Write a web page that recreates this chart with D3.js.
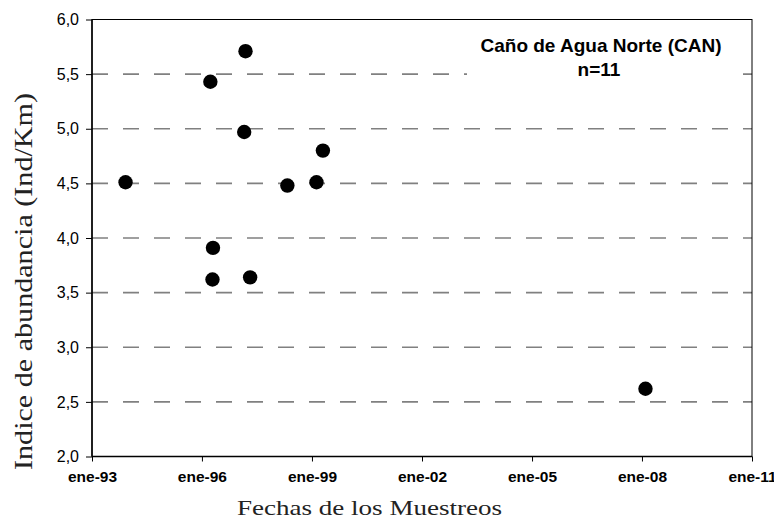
<!DOCTYPE html>
<html><head><meta charset="utf-8">
<script src="https://cdn.jsdelivr.net/npm/d3@7"></script>
<style>body{margin:0;background:#fff}</style>
</head><body>
<svg id="c" width="774" height="523"></svg>
<script>
const sampleDates = ["1993-12-01","1996-03-25","1997-03-10","1997-02-25","1998-05-01","1999-02-15","1999-04-20","1996-04-20","1996-04-15","1997-04-25","2008-02-05"];
const abundance = [4.51,5.43,5.71,4.97,4.48,4.51,4.80,3.91,3.62,3.64,2.62];
const xTickYears = [1993,1996,1999,2002,2005,2008,2011];
const xTickLabels = ["ene-93","ene-96","ene-99","ene-02","ene-05","ene-08","ene-11"];
const yTicks = [2.0,2.5,3.0,3.5,4.0,4.5,5.0,5.5,6.0];
const titleLines = ["Caño de Agua Norte (CAN)","n=11"];

const svg = d3.select("#c");
const L=92,R=752,T=19.5,B=456.5;
const x = d3.scaleTime().domain([new Date(1993,0,1), new Date(2011,0,1)]).range([L,R]);
const y = d3.scaleLinear().domain([2,6]).range([B,T]);
const parse = d3.timeParse("%Y-%m-%d");
const data = sampleDates.map((d,i)=>({date:parse(d), v:abundance[i]}));

// gridlines
svg.append("g").selectAll("line").data(yTicks.filter(t=>t>2&&t<6)).join("line")
  .attr("x1",L).attr("x2",R).attr("y1",d=>y(d)).attr("y2",d=>y(d))
  .attr("stroke","#808080").attr("stroke-width",1.6).attr("stroke-dasharray","16,15");

// title box (white)
svg.append("rect").attr("x",467).attr("y",T+3).attr("width",271).attr("height",70).attr("fill","#fff");

// frame
svg.append("rect").attr("x",L).attr("y",T).attr("width",R-L).attr("height",B-T)
  .attr("fill","none").attr("stroke","#000").attr("stroke-width",1);
svg.append("line").attr("x1",L).attr("x2",L).attr("y1",T).attr("y2",B).attr("stroke","#000").attr("stroke-width",1.5);
svg.append("line").attr("x1",L).attr("x2",R).attr("y1",B).attr("y2",B).attr("stroke","#000").attr("stroke-width",1.5);

// y axis
const yAxis = d3.axisLeft(y).tickValues(yTicks).tickSize(6).tickPadding(7)
  .tickFormat(d=>d3.format(".1f")(d).replace(".",","));
const gy = svg.append("g").attr("transform",`translate(${L},0)`).call(yAxis);
gy.select(".domain").remove();
gy.selectAll("text").attr("font-family","'Liberation Sans',Arial,sans-serif").attr("font-size",16).attr("fill","#000");
gy.selectAll("line").attr("stroke","#000");

// x axis
const xAxis = d3.axisBottom(x).tickValues(xTickYears.map(yv=>new Date(yv,0,1))).tickSize(5).tickPadding(9)
  .tickFormat((d,i)=>xTickLabels[i]);
const gx = svg.append("g").attr("transform",`translate(0,${B})`).call(xAxis);
gx.select(".domain").remove();
gx.selectAll("text").attr("font-family","'Liberation Sans',Arial,sans-serif").attr("font-size",15.5).attr("font-weight","bold").attr("fill","#000");
gx.selectAll("line").attr("stroke","#000");

// points
svg.append("g").selectAll("circle").data(data).join("circle")
  .attr("cx",d=>x(d.date)).attr("cy",d=>y(d.v)).attr("r",7.2).attr("fill","#000");

// title
svg.append("text").attr("x",601).attr("y",52).attr("text-anchor","middle")
  .attr("font-family","'Liberation Sans',Arial,sans-serif").attr("font-weight","bold").attr("font-size",19)
  .text(titleLines[0]);
svg.append("text").attr("x",599).attr("y",76).attr("text-anchor","middle")
  .attr("font-family","'Liberation Sans',Arial,sans-serif").attr("font-weight","bold").attr("font-size",19)
  .text(titleLines[1]);

// axis titles
svg.append("text").attr("x",237).attr("y",515)
  .attr("font-family","'Liberation Serif','Times New Roman',serif").attr("font-size",21).attr("fill","#222")
  .attr("textLength",265).attr("lengthAdjust","spacingAndGlyphs")
  .text("Fechas de los Muestreos");
svg.append("text").attr("transform","translate(32,470) rotate(-90)")
  .attr("font-family","'Liberation Serif','Times New Roman',serif").attr("font-size",26).attr("fill","#222")
  .attr("textLength",377).attr("lengthAdjust","spacingAndGlyphs")
  .text("Indice de abundancia (Ind/Km)");
</script>
</body></html>
